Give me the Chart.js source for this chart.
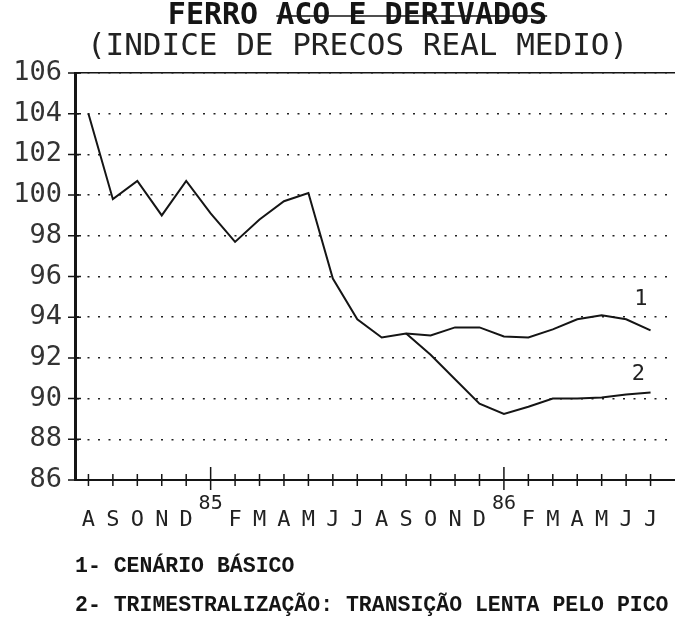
<!DOCTYPE html>
<html>
<head>
<meta charset="utf-8">
<script src="https://cdn.jsdelivr.net/npm/chart.js@4/dist/chart.umd.min.js"></script>
<style>
  html, body { margin: 0; padding: 0; background: #fff; }
  canvas { display: block; }
</style>
</head>
<body>
<canvas id="chart" width="675" height="626"></canvas>
<script>
// Aug/84 .. Jul/86 ; "85" and "86" stand on the Januaries
const monthLabels = ['A','S','O','N','D','85','F','M','A','M','J','J','A','S','O','N','D','86','F','M','A','M','J','J'];
const yearMarks = [5, 17];

const cenarioBasico = [104.0, 99.8, 100.7, 99.0, 100.7, 99.1, 97.7, 98.8, 99.7, 100.1, 95.9, 93.9,
                       93.0, 93.2, 93.1, 93.5, 93.5, 93.05, 93.0, 93.4, 93.9, 94.1, 93.9, 93.35];
const trimestralizacao = [null, null, null, null, null, null, null, null, null, null, null, null,
                          null, 93.2, 92.15, 90.95, 89.75, 89.25, 89.6, 90.0, 90.0, 90.05, 90.2, 90.3];

const seriesNames = ['1- CENÁRIO BÁSICO', '2- TRIMESTRALIZAÇÃO: TRANSIÇÃO LENTA PELO PICO'];
const seriesTags = ['1', '2'];

const TITLE = 'FERRO ACO E DERIVADOS';
const SUBTITLE = '(INDICE DE PRECOS REAL MEDIO)';

const mono = '"DejaVu Sans Mono", monospace';
const ink = '#151515';

// the typed title sits a bit right of the page centre
const titleShift = {
  id: 'titleShift',
  afterLayout(chart) {
    chart.boxes.forEach(b => {
      if (b.position === 'top' && b.options && typeof b.options.text === 'string') b.left = 40;
    });
  }
};

// crosses on the axes, the "1"/"2" tags and the line struck through the title
const axisMarks = {
  id: 'axisMarks',
  afterDraw(chart) {
    const {ctx, chartArea: a, scales: {x, y}} = chart;
    ctx.save();
    ctx.strokeStyle = ink;
    ctx.lineWidth = 1.5;
    ctx.beginPath();
    y.ticks.forEach(t => {
      const py = y.getPixelForValue(t.value);
      ctx.moveTo(a.left - 7, py);
      ctx.lineTo(a.left + 6, py);
    });
    x.ticks.forEach(t => {
      const px = x.getPixelForValue(t.value);
      const tall = yearMarks.includes(t.value);
      ctx.moveTo(px, a.bottom - (tall ? 13 : 6));
      ctx.lineTo(px, a.bottom + (tall ? 10 : 6));
    });
    ctx.stroke();

    // series tags near the line ends
    const tagAt = [{x: 22.6, y: 94.9}, {x: 22.5, y: 91.2}];
    ctx.fillStyle = '#222';
    ctx.font = '22px ' + mono;
    ctx.textAlign = 'center';
    ctx.textBaseline = 'middle';
    seriesTags.forEach((s, i) => {
      ctx.fillText(s, x.getPixelForValue(tagAt[i].x), y.getPixelForValue(tagAt[i].y));
    });

    // strike through "ACO E DERIVADOS"
    const tb = chart.titleBlock;
    if (tb) {
      ctx.font = 'bold 30px ' + mono;
      const full = ctx.measureText(TITLE).width;
      const cx = (tb.left + tb.right) / 2;
      const x0 = cx - full / 2 + ctx.measureText('FERRO ').width;
      const yy = tb.top + 1 + 15;
      ctx.lineWidth = 1.5;
      ctx.beginPath();
      ctx.moveTo(x0, yy);
      ctx.lineTo(cx + full / 2, yy);
      ctx.stroke();
    }
    ctx.restore();
  }
};

new Chart(document.getElementById('chart'), {
  type: 'line',
  data: {
    datasets: [
      {
        label: seriesNames[0],
        data: cenarioBasico.map((v, i) => ({x: i, y: v})),
        borderColor: ink,
        borderWidth: 2,
        pointRadius: 0,
        tension: 0,
        fill: false
      },
      {
        label: seriesNames[1],
        data: trimestralizacao.map((v, i) => ({x: i, y: v})),
        borderColor: ink,
        borderWidth: 2,
        pointRadius: 0,
        tension: 0,
        fill: false
      }
    ]
  },
  options: {
    responsive: false,
    animation: false,
    layout: { padding: { left: 5, right: 0, top: 0, bottom: 0 } },
    scales: {
      x: {
        type: 'linear',
        min: -0.55,
        max: 24,
        afterBuildTicks: s => { s.ticks = monthLabels.map((_, i) => ({value: i})); },
        afterFit: s => { s.height = 59; },
        grid: { drawOnChartArea: false, drawTicks: true, tickLength: 18, tickColor: 'transparent' },
        border: { color: ink, width: 2 },
        ticks: {
          autoSkip: false,
          maxRotation: 0,
          minRotation: 0,
          padding: 0,
          color: '#222',
          callback: v => monthLabels[v],
          font: c => (c.tick && yearMarks.includes(c.tick.value))
            ? {family: mono, size: 20, lineHeight: 0.55}
            : {family: mono, size: 22, lineHeight: 2}
        }
      },
      xTop: {
        type: 'linear',
        position: 'top',
        min: -0.55,
        max: 24,
        afterFit: s => { s.height = 0; },
        grid: { display: false },
        ticks: { display: false },
        border: { color: ink, width: 1.5 }
      },
      y: {
        min: 86,
        max: 106,
        afterFit: s => { s.width = 70; },
        grid: { color: '#222', lineWidth: 1.6, drawTicks: false },
        border: { color: ink, width: 3, dash: [2, 8.5] },
        ticks: {
          stepSize: 2,
          padding: 13,
          color: '#333',
          font: { family: mono, size: 27 }
        }
      }
    },
    plugins: {
      title: {
        display: true,
        text: TITLE,
        color: ink,
        font: { family: mono, size: 30, weight: 'bold', lineHeight: 1 },
        padding: { top: 1, bottom: 0 }
      },
      subtitle: {
        display: true,
        text: SUBTITLE,
        color: '#222',
        font: { family: mono, size: 31, lineHeight: 1 },
        padding: { top: 0, bottom: 11 }
      },
      legend: {
        position: 'bottom',
        align: 'start',
        labels: {
          boxWidth: 42.25,
          boxHeight: 0,
          padding: 17,
          color: ink,
          font: { family: '"Liberation Mono", monospace', size: 21.5, weight: 'bold' },
          generateLabels: chart => chart.data.datasets.map((d, i) => ({
            text: d.label,
            fillStyle: 'transparent',
            strokeStyle: 'transparent',
            lineWidth: 0,
            hidden: false,
            datasetIndex: i,
            fontColor: ink
          }))
        }
      },
      tooltip: { enabled: false }
    }
  },
  plugins: [titleShift, axisMarks]
});
</script>
</body>
</html>
